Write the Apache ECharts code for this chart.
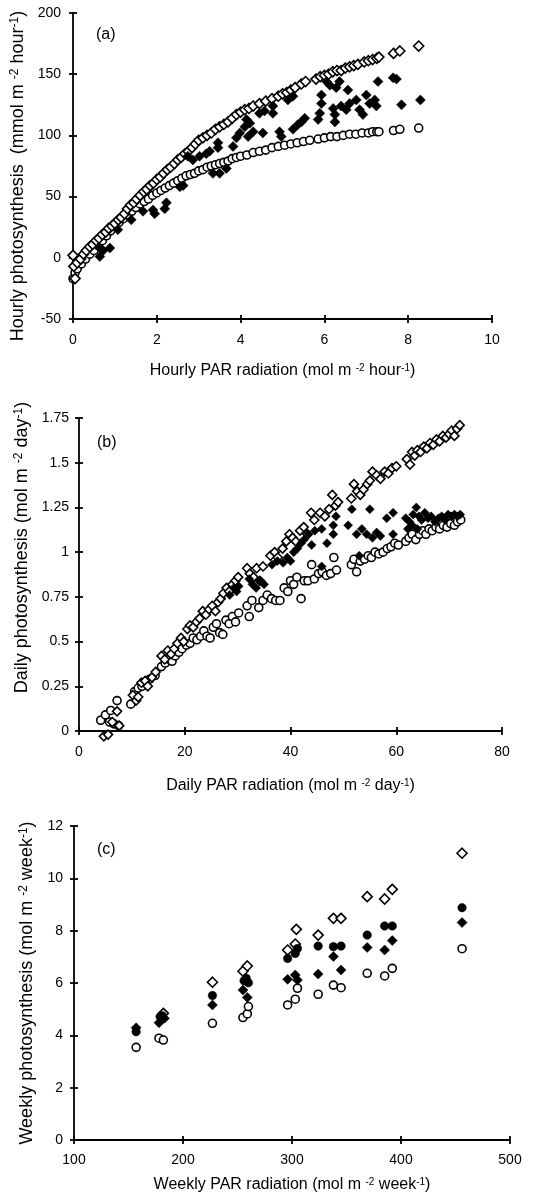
<!DOCTYPE html>
<html>
<head>
<meta charset="utf-8">
<script src="https://cdn.jsdelivr.net/npm/echarts@6/dist/echarts.min.js"></script>
<style>
  html, body { margin: 0; padding: 0; background: #fff; }
  #chart { width: 553px; height: 1204px; }
</style>
</head>
<body>
<div id="chart"></div>
<script>
// ---- (a) hourly ----
const hourlyOpenDiamonds = [
  [0, 2], [0.02, -7], [0.05, -17], [0.1, -4], [0.18, -1], [0.25, 3], [0.32, 6], [0.4, 9], [0.47, 11],
  [0.55, 14], [0.62, 16], [0.7, 19], [0.78, 21], [0.85, 24], [0.93, 26], [1.0, 28], [1.08, 31], [1.15, 33],
  [1.23, 36], [1.3, 40], [1.37, 43], [1.45, 45], [1.52, 48], [1.6, 51], [1.69, 54], [1.76, 56], [1.84, 59],
  [1.92, 61], [2.0, 64], [2.08, 66], [2.16, 69], [2.25, 72], [2.33, 74], [2.42, 77], [2.5, 80], [2.58, 82],
  [2.67, 85], [2.75, 87], [2.84, 90], [2.92, 93], [3.0, 96], [3.1, 98], [3.2, 100], [3.3, 102], [3.4, 105],
  [3.5, 107], [3.6, 109], [3.7, 111], [3.8, 114], [3.9, 117], [4.0, 119], [4.1, 121], [4.2, 122], [4.3, 124],
  [4.45, 126], [4.6, 128], [4.75, 130], [4.9, 132], [5.0, 134], [5.1, 135], [5.2, 137], [5.3, 139],
  [5.45, 142], [5.55, 144], [5.8, 146], [5.9, 148], [6.0, 149], [6.1, 150], [6.2, 152], [6.3, 153],
  [6.4, 153], [6.5, 155], [6.6, 156], [6.7, 157], [6.8, 158], [6.95, 160], [7.05, 161], [7.15, 162],
  [7.25, 163], [7.3, 164], [7.65, 167], [7.8, 169], [8.25, 173]
];
const hourlyOpenCircles = [
  [0, -17], [0.05, -12], [0.1, -9], [0.2, -5], [0.3, -1], [0.4, 3], [0.5, 6], [0.6, 10], [0.7, 14], [0.8, 18],
  [0.9, 22], [1.0, 26], [1.1, 29], [1.2, 32], [1.3, 35], [1.4, 38], [1.5, 41], [1.6, 44], [1.7, 46], [1.8, 48],
  [1.9, 51], [2.0, 53], [2.1, 55], [2.2, 57], [2.3, 59], [2.4, 61], [2.5, 63], [2.6, 65], [2.7, 67], [2.8, 68],
  [2.9, 69], [3.0, 71], [3.1, 72], [3.2, 74], [3.3, 75], [3.4, 76], [3.5, 77], [3.6, 78], [3.7, 79], [3.8, 81],
  [3.9, 82], [4.0, 83], [4.15, 84], [4.3, 86], [4.45, 87], [4.6, 88], [4.75, 90], [4.9, 91], [5.05, 92],
  [5.2, 93], [5.35, 94], [5.5, 95], [5.65, 96], [5.85, 97], [6.0, 98], [6.15, 99], [6.3, 99], [6.45, 100],
  [6.6, 101], [6.75, 101], [6.9, 102], [7.05, 102], [7.15, 103], [7.25, 103], [7.3, 103], [7.65, 104],
  [7.8, 105], [8.25, 106]
];
const hourlyFilledDiamonds = [
  [0.64, 1], [0.72, 6], [0.64, 8], [0.88, 8], [1.07, 23], [1.39, 31], [1.67, 38], [1.91, 39], [1.95, 36],
  [2.19, 40], [2.23, 45], [2.55, 58], [2.63, 59], [2.74, 83], [2.86, 80], [3.02, 83], [3.18, 85], [3.26, 87],
  [3.46, 90], [3.34, 69], [3.5, 69], [3.66, 73], [3.46, 94], [3.82, 91], [3.9, 98], [3.98, 102], [4.1, 107],
  [4.22, 110], [4.14, 113], [4.18, 99], [4.3, 103], [4.53, 102], [4.45, 118], [4.57, 120], [4.77, 118],
  [4.77, 124], [4.93, 103], [4.97, 99], [5.13, 129], [5.25, 132], [5.25, 105], [5.37, 109], [5.45, 111],
  [5.53, 114], [5.85, 113], [5.89, 118], [5.93, 126], [5.93, 133], [6.05, 144], [6.13, 141], [6.28, 139],
  [6.36, 144], [6.56, 137], [6.21, 122], [6.25, 117], [6.25, 111], [6.4, 124], [6.52, 121], [6.6, 126],
  [6.76, 129], [6.84, 121], [6.92, 117], [7.0, 133], [7.08, 126], [7.2, 129], [7.24, 124], [7.28, 144],
  [7.64, 147], [7.72, 146], [7.84, 125], [8.29, 129]
];

// ---- (b) daily ----
const dailyOpenDiamonds = [
  [4.7, -0.03], [5.5, -0.02], [6.3, 0.05], [7.2, 0.11], [7.6, 0.03], [10.2, 0.2], [10.8, 0.17], [11.2, 0.19],
  [11.8, 0.27], [12.5, 0.28], [13, 0.25], [13.8, 0.3], [14.5, 0.33], [15.6, 0.42], [16.2, 0.4], [16.8, 0.45],
  [17.4, 0.43], [18, 0.46], [18.6, 0.49], [19.3, 0.52], [19.8, 0.5], [20.5, 0.57], [21, 0.59], [21.6, 0.58],
  [22.2, 0.61], [22.8, 0.63], [23.4, 0.67], [24, 0.65], [24.6, 0.68], [25.2, 0.7], [25.8, 0.67], [26.3, 0.72],
  [26.8, 0.74], [27.3, 0.77], [27.9, 0.8], [28.4, 0.78], [29, 0.82], [29.6, 0.84], [30.1, 0.86], [31.8, 0.91],
  [32.3, 0.88], [33, 0.86], [33.6, 0.91], [34.2, 0.84], [34.8, 0.92], [36.2, 0.98], [37, 1.0], [37.6, 0.97],
  [38.5, 1.02], [39.2, 1.06], [39.8, 1.1], [40.4, 1.08], [41, 1.06], [41.8, 1.12], [42.5, 1.14], [43.2, 1.1],
  [43.9, 1.22], [44.5, 1.18], [45.6, 1.22], [46.5, 1.2], [47.3, 1.24], [47.9, 1.32], [48.5, 1.26], [49, 1.28],
  [51.5, 1.3], [52, 1.38], [52.6, 1.34], [53.2, 1.32], [53.8, 1.35], [54.5, 1.38], [55, 1.4], [55.5, 1.45],
  [56.3, 1.43], [57, 1.41], [57.8, 1.45], [58.5, 1.44], [59.2, 1.47], [60, 1.48], [62, 1.52], [62.6, 1.49],
  [63, 1.56], [63.5, 1.54], [64, 1.57], [64.6, 1.56], [65.2, 1.59], [65.8, 1.58], [66.4, 1.61], [67, 1.6],
  [67.6, 1.63], [68.2, 1.62], [68.8, 1.65], [69.4, 1.64], [70, 1.66], [70.5, 1.68], [71, 1.65], [71.5, 1.69],
  [72, 1.71]
];
const dailyOpenCircles = [
  [4.1, 0.06], [5, 0.09], [5.8, 0.05], [6, 0.115], [6.6, 0.04], [7.2, 0.17], [7.5, 0.03], [9.8, 0.15],
  [10.5, 0.22], [11.2, 0.24], [11.9, 0.25], [12.6, 0.27], [13.4, 0.29], [14.4, 0.31], [15.6, 0.36],
  [16.3, 0.38], [17, 0.4], [17.6, 0.39], [18.2, 0.42], [18.9, 0.44], [19.5, 0.46], [20.3, 0.48], [21, 0.49],
  [21.6, 0.52], [22.3, 0.51], [23, 0.53], [23.6, 0.56], [24.2, 0.53], [24.8, 0.52], [25.4, 0.58], [26, 0.6],
  [26.6, 0.55], [27.2, 0.54], [27.8, 0.62], [28.4, 0.6], [29, 0.64], [29.6, 0.61], [30.2, 0.66], [31.8, 0.7],
  [32.2, 0.64], [32.7, 0.73], [34, 0.69], [34.8, 0.73], [35.6, 0.76], [36.4, 0.74], [37.2, 0.73], [38, 0.73],
  [38.8, 0.8], [39.5, 0.78], [40, 0.84], [40.6, 0.82], [41.2, 0.86], [42, 0.74], [42.6, 0.84], [43.3, 0.84],
  [44, 0.93], [44.5, 0.85], [45.3, 0.88], [46, 0.89], [46.8, 0.87], [47.6, 0.88], [48.2, 0.97], [48.7, 0.9],
  [51.5, 0.93], [52, 0.96], [52.5, 0.89], [53.2, 0.95], [54, 0.96], [54.7, 0.98], [55.3, 0.97], [56, 1.0],
  [56.7, 0.99], [57.5, 1.0], [58.3, 1.02], [59, 1.03], [59.7, 1.05], [60.4, 1.04], [61.8, 1.06], [62.4, 1.08],
  [63, 1.1], [63.7, 1.07], [64.4, 1.1], [65, 1.12], [65.6, 1.1], [66.2, 1.13], [66.8, 1.12], [67.5, 1.14],
  [68.2, 1.13], [68.9, 1.15], [69.6, 1.14], [70.3, 1.16], [71, 1.15], [71.6, 1.17], [72.2, 1.18]
];
const dailyFilledDiamonds = [
  [28.5, 0.76], [29.3, 0.8], [29.8, 0.78], [30.2, 0.81], [32.2, 0.85], [32.8, 0.82], [33.5, 0.8], [34.3, 0.84],
  [35, 0.82], [36.5, 0.93], [37.5, 0.95], [38.6, 0.94], [39.4, 0.97], [40, 0.95], [40.6, 1.0], [41.3, 1.02],
  [42, 1.05], [42.6, 1.07], [43.4, 1.1], [44, 1.04], [44.6, 1.12], [45.9, 1.13], [45.9, 0.92], [46.9, 1.05],
  [48.1, 1.1], [48.1, 1.15], [48.6, 1.2], [50.9, 1.15], [51.6, 1.24], [52.5, 1.1], [53, 0.98], [53.5, 1.13],
  [54.4, 1.1], [55, 1.24], [55.5, 1.08], [56.3, 1.11], [57, 1.09], [58.2, 1.19], [59.4, 1.22], [59.4, 1.1],
  [61.8, 1.19], [62.5, 1.17], [63.2, 1.21], [63.8, 1.25], [64.3, 1.2], [64.8, 1.18], [65.4, 1.22], [66, 1.19],
  [66.6, 1.2], [67.3, 1.17], [68, 1.19], [68.6, 1.2], [69.2, 1.18], [69.8, 1.21], [70.4, 1.2], [71, 1.21],
  [71.6, 1.2], [72.1, 1.21], [62.2, 1.13], [63, 1.15], [64, 1.13]
];

// ---- (c) weekly ----
const weeklyOpenDiamonds = [
  [182, 4.84], [227, 6.03], [255, 6.45], [259, 6.65], [296, 7.26], [303, 7.49], [304, 8.05], [324, 7.83],
  [338, 8.47], [345, 8.47], [369, 9.3], [385, 9.21], [392, 9.58], [456, 10.96]
];
const weeklyFilledCircles = [
  [157, 4.14], [179, 4.71], [181, 4.75], [227, 5.52], [256, 6.09], [258, 6.18], [260, 6.01], [296, 6.94],
  [303, 7.13], [305, 7.32], [324, 7.41], [338, 7.39], [345, 7.41], [369, 7.83], [385, 8.18], [392, 8.18],
  [456, 8.88]
];
const weeklyFilledDiamonds = [
  [157, 4.29], [178, 4.48], [183, 4.65], [227, 5.16], [255, 5.73], [259, 5.45], [296, 6.14], [303, 6.31],
  [305, 6.11], [324, 6.34], [338, 7.01], [345, 6.5], [369, 7.36], [385, 7.26], [392, 7.62], [456, 8.31]
];
const weeklyOpenCircles = [
  [157, 3.54], [178, 3.89], [182, 3.82], [227, 4.46], [255, 4.68], [259, 4.82], [260, 5.1], [296, 5.16],
  [303, 5.38], [305, 5.8], [324, 5.57], [338, 5.92], [345, 5.82], [369, 6.37], [385, 6.27], [392, 6.56],
  [456, 7.31]
];

const chart = echarts.init(document.getElementById('chart'));
const font = '"Liberation Sans", Arial, sans-serif';

function supRich(size) {
  return { sup: { fontSize: Math.round(size * 0.65), verticalAlign: 'top', fontFamily: font, color: '#000' } };
}

// main axis (line, outer ticks, labels, name) + twin axis on the same side for the inner half of the ticks
function axisPair(grid, pos, min, max, interval, name, o) {
  const tickStyle = { color: '#000', width: 1.8 };
  const main = {
    type: 'value', gridIndex: grid, position: pos, min: min, max: max, interval: interval,
    name: name, nameLocation: 'middle', nameGap: o.nameGap,
    nameTextStyle: {
      color: '#000', fontFamily: font, fontSize: o.nameSize,
      padding: o.namePadding || 0, rich: supRich(o.nameSize)
    },
    axisLine: { show: true, onZero: false, lineStyle: { color: '#000', width: 1.8 } },
    axisTick: { show: true, inside: false, length: 4, lineStyle: tickStyle },
    axisLabel: { color: '#000', fontFamily: font, fontSize: 14, margin: o.labelMargin },
    splitLine: { show: false }
  };
  const twin = {
    type: 'value', gridIndex: grid, position: pos, offset: 0, min: min, max: max, interval: interval,
    axisLine: { show: false, onZero: false }, axisLabel: { show: false }, splitLine: { show: false },
    axisTick: { show: true, inside: true, length: 4, lineStyle: tickStyle }
  };
  return [main, twin];
}

function openSeries(data, axis, symbol, size) {
  return {
    type: 'scatter', xAxisIndex: axis, yAxisIndex: axis, data: data, symbol: symbol, symbolSize: size,
    clip: false, silent: true,
    itemStyle: { color: '#fff', borderColor: '#000', borderWidth: 1.6, opacity: 1 }
  };
}
function filledSeries(data, axis, symbol, size) {
  return {
    type: 'scatter', xAxisIndex: axis, yAxisIndex: axis, data: data, symbol: symbol, symbolSize: size,
    clip: false, silent: true,
    itemStyle: { color: '#000', borderColor: '#000', borderWidth: 0.5, opacity: 1 }
  };
}

const xAxes = [].concat(
  axisPair(0, 'bottom', 0, 10, 2, 'Hourly PAR radiation (mol m {sup|-2} hour{sup|-1})', { nameGap: 44, nameSize: 16, labelMargin: 14 }),
  axisPair(1, 'bottom', 0, 80, 20, 'Daily PAR radiation (mol m {sup|-2} day{sup|-1})', { nameGap: 47, nameSize: 16, labelMargin: 14 }),
  axisPair(2, 'bottom', 100, 500, 100, 'Weekly PAR radiation (mol m {sup|-2} week{sup|-1})', { nameGap: 37, nameSize: 16, labelMargin: 13 })
);
const yAxes = [].concat(
  axisPair(0, 'left', -50, 200, 50, 'Hourly photosynthesis  (mmol m {sup|-2} hour{sup|-1})', { nameGap: 38, nameSize: 18, labelMargin: 12, namePadding: [0, 20, 0, 0] }),
  axisPair(1, 'left', 0, 1.75, 0.25, 'Daily photosynthesis (mol m {sup|-2} day{sup|-1})', { nameGap: 42, nameSize: 18, labelMargin: 10, namePadding: [0, 0, 0, 54] }),
  axisPair(2, 'left', 0, 12, 2, 'Weekly photosynthesis (mol m {sup|-2} week{sup|-1})', { nameGap: 38, nameSize: 18, labelMargin: 11 })
);

chart.setOption({
  animation: false,
  backgroundColor: '#fff',
  grid: [
    { left: 73, right: 61, top: 13, height: 306, containLabel: false, outerBoundsMode: 'none' },
    { left: 79, right: 51, top: 418, height: 313, containLabel: false, outerBoundsMode: 'none' },
    { left: 74, right: 43, top: 826, height: 314, containLabel: false, outerBoundsMode: 'none' }
  ],
  xAxis: xAxes,
  yAxis: yAxes,
  graphic: [
    { type: 'text', left: 96, top: 27, style: { text: '(a)', font: '16px "Liberation Sans", Arial', fill: '#000' } },
    { type: 'text', left: 97, top: 435, style: { text: '(b)', font: '16px "Liberation Sans", Arial', fill: '#000' } },
    { type: 'text', left: 97, top: 842, style: { text: '(c)', font: '16px "Liberation Sans", Arial', fill: '#000' } }
  ],
  series: [
    openSeries(hourlyOpenCircles, 0, 'circle', 8),
    openSeries(hourlyOpenDiamonds, 0, 'diamond', 10),
    filledSeries(hourlyFilledDiamonds, 0, 'diamond', 10),
    openSeries(dailyOpenCircles, 2, 'circle', 8),
    openSeries(dailyOpenDiamonds, 2, 'diamond', 9),
    filledSeries(dailyFilledDiamonds, 2, 'diamond', 9),
    openSeries(weeklyOpenCircles, 4, 'circle', 8),
    openSeries(weeklyOpenDiamonds, 4, 'diamond', 10),
    filledSeries(weeklyFilledDiamonds, 4, 'diamond', 10),
    filledSeries(weeklyFilledCircles, 4, 'circle', 8.5)
  ]
});
</script>
</body>
</html>
